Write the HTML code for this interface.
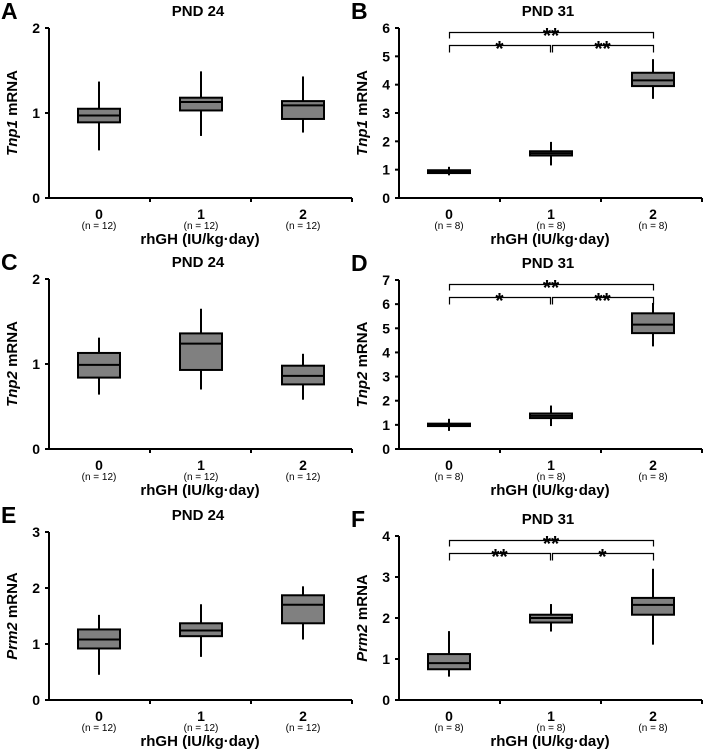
<!DOCTYPE html>
<html><head><meta charset="utf-8"><style>
body{margin:0;background:#fff}
svg{display:block;font-family:"Liberation Sans",Arial,sans-serif}
</style></head><body>
<svg id="fig" width="708" height="752" viewBox="0 0 708 752" xmlns="http://www.w3.org/2000/svg"></svg>
<script>
// Box data: [min, q1, median, q3, max] per dose group
const categories = ["0","1","2"];
const boxesA = [[0.56,0.89,0.97,1.05,1.37],[0.73,1.03,1.13,1.18,1.49],[0.77,0.93,1.09,1.14,1.43]];
const boxesB = [[0.80,0.88,0.93,0.98,1.10],[1.15,1.50,1.58,1.65,1.98],[3.50,3.95,4.15,4.42,4.90]];
const boxesC = [[0.64,0.84,0.99,1.13,1.31],[0.70,0.93,1.24,1.36,1.65],[0.58,0.76,0.86,0.98,1.12]];
const boxesD = [[0.75,0.95,1.00,1.05,1.25],[0.95,1.28,1.37,1.47,1.80],[4.25,4.80,5.15,5.62,6.05]];
const boxesE = [[0.45,0.92,1.08,1.26,1.52],[0.77,1.14,1.24,1.37,1.71],[1.08,1.37,1.70,1.87,2.03]];
const boxesF = [[0.57,0.75,0.90,1.12,1.68],[1.67,1.89,2.00,2.08,2.34],[1.35,2.08,2.32,2.49,3.20]];
const ticksA = [0,1,2], ticksB = [0,1,2,3,4,5,6], ticksC = [0,1,2], ticksD = [0,1,2,3,4,5,6,7], ticksE = [0,1,2,3], ticksF = [0,1,2,3,4];
const nA = 12, nB = 8;
const sigB = ["**","*","**"], sigD = ["**","*","**"], sigF = ["**","**","*"];

const NS="http://www.w3.org/2000/svg";
const svg=document.getElementById('fig');
function mk(tag,attrs,parent,text){const e=document.createElementNS(NS,tag);for(const k in attrs)e.setAttribute(k,attrs[k]);if(text!==undefined)e.textContent=text;(parent||svg).appendChild(e);return e;}

const panels=[
 {id:'a',letter:'A',title:'PND 24',gene:'Tnp1',ox:0,top:28,bot:198,ymax:2,ticks:ticksA,boxes:boxesA,n:nA,sig:null},
 {id:'b',letter:'B',title:'PND 31',gene:'Tnp1',ox:350,top:28,bot:198,ymax:6,ticks:ticksB,boxes:boxesB,n:nB,sig:sigB},
 {id:'c',letter:'C',title:'PND 24',gene:'Tnp2',ox:0,top:279,bot:449,ymax:2,ticks:ticksC,boxes:boxesC,n:nA,sig:null},
 {id:'d',letter:'D',title:'PND 31',gene:'Tnp2',ox:350,top:280,bot:449,ymax:7,ticks:ticksD,boxes:boxesD,n:nB,sig:sigD},
 {id:'e',letter:'E',title:'PND 24',gene:'Prm2',ox:0,top:532,bot:700,ymax:3,ticks:ticksE,boxes:boxesE,n:nA,sig:null},
 {id:'f',letter:'F',title:'PND 31',gene:'Prm2',ox:350,top:536,bot:700,ymax:4,ticks:ticksF,boxes:boxesF,n:nB,sig:sigF}
];

panels.forEach(p=>{
  const g=mk('g',{});
  
  
  const ax=p.ox+49, axR=p.ox+352, rowTop=p.top-28;
  const y=v=>p.bot-(v/p.ymax)*(p.bot-p.top);
  const x=i=>ax+50+i*102;
  const t1=mk('text',{x:p.ox+1,y:rowTop+19,'font-size':23,'font-weight':'bold'},g,p.letter);
  
  const t2=mk('text',{x:p.ox+198,y:rowTop+16,'font-size':15,'font-weight':'bold','text-anchor':'middle'},g,p.title);
  
  const yt=mk('text',{transform:`translate(${p.ox+17},${(p.top+p.bot)/2}) rotate(-90)`,'font-size':15,'font-weight':'bold','text-anchor':'middle'},g);
  
  mk('tspan',{'font-style':'italic'},yt,p.gene);mk('tspan',{},yt,' mRNA');
  const yl=mk('line',{x1:ax,y1:p.top,x2:ax,y2:p.bot,stroke:'#000','stroke-width':2},g);
  
  const xl=mk('line',{x1:ax,y1:p.bot,x2:axR,y2:p.bot,stroke:'#000','stroke-width':2},g);
  
  p.ticks.forEach(v=>{
    mk('line',{x1:ax-4,y1:y(v),x2:ax,y2:y(v),stroke:'#000','stroke-width':2},g);
    const tl=mk('text',{x:ax-9,y:y(v)+5,'font-size':14,'font-weight':'bold','text-anchor':'end'},g,String(v));
    
  });
  for(let i=1;i<=3;i++) mk('line',{x1:ax+i*101,y1:p.bot,x2:ax+i*101,y2:p.bot+4,stroke:'#000','stroke-width':2},g);
  categories.forEach((c,i)=>{
    const cl=mk('text',{x:x(i),y:p.bot+21,'font-size':14,'font-weight':'bold','text-anchor':'middle'},g,c);
    
    const nl=mk('text',{x:x(i),y:p.bot+31,'font-size':10,'text-anchor':'middle'},g,`(n = ${p.n})`);
    
    const b=p.boxes[i];
    const w=mk('line',{x1:x(i),y1:y(b[0]),x2:x(i),y2:y(b[4]),stroke:'#000','stroke-width':2},g);
    
    const r=mk('rect',{x:x(i)-21,y:y(b[3]),width:42,height:Math.max(1,y(b[1])-y(b[3])),fill:'#808080',stroke:'#000','stroke-width':2},g);
    
    const m=mk('line',{x1:x(i)-21,y1:y(b[2]),x2:x(i)+21,y2:y(b[2]),stroke:'#000','stroke-width':2},g);
    
  });
  const xt=mk('text',{x:p.ox+200,y:p.bot+46,'font-size':15,'font-weight':'bold','text-anchor':'middle'},g,'rhGH (IU/kg·day)');
  
  if(p.sig){
    const bt=Math.round(p.top+4)+0.5, bl=Math.round(p.top+17)+0.5;
    const br=(x1,x2,yy,d,label,name)=>{
      const pa=mk('path',{d:`M${x1+0.5},${yy+d}V${yy}H${x2+0.5}V${yy+d}`,fill:'none',stroke:'#000','stroke-width':1.2},g);
      
      const s=mk('text',{x:(x1+x2)/2,y:yy+10,'font-size':21,'font-weight':'bold','text-anchor':'middle'},g,label);
      
    };
    br(x(0),x(2),bt,6,p.sig[0],'bracket-0-2');
    br(x(0),x(1)-1,bl,7,p.sig[1],'bracket-0-1');
    br(x(1)+1,x(2),bl,7,p.sig[2],'bracket-1-2');
  }
});
</script>
</body></html>
